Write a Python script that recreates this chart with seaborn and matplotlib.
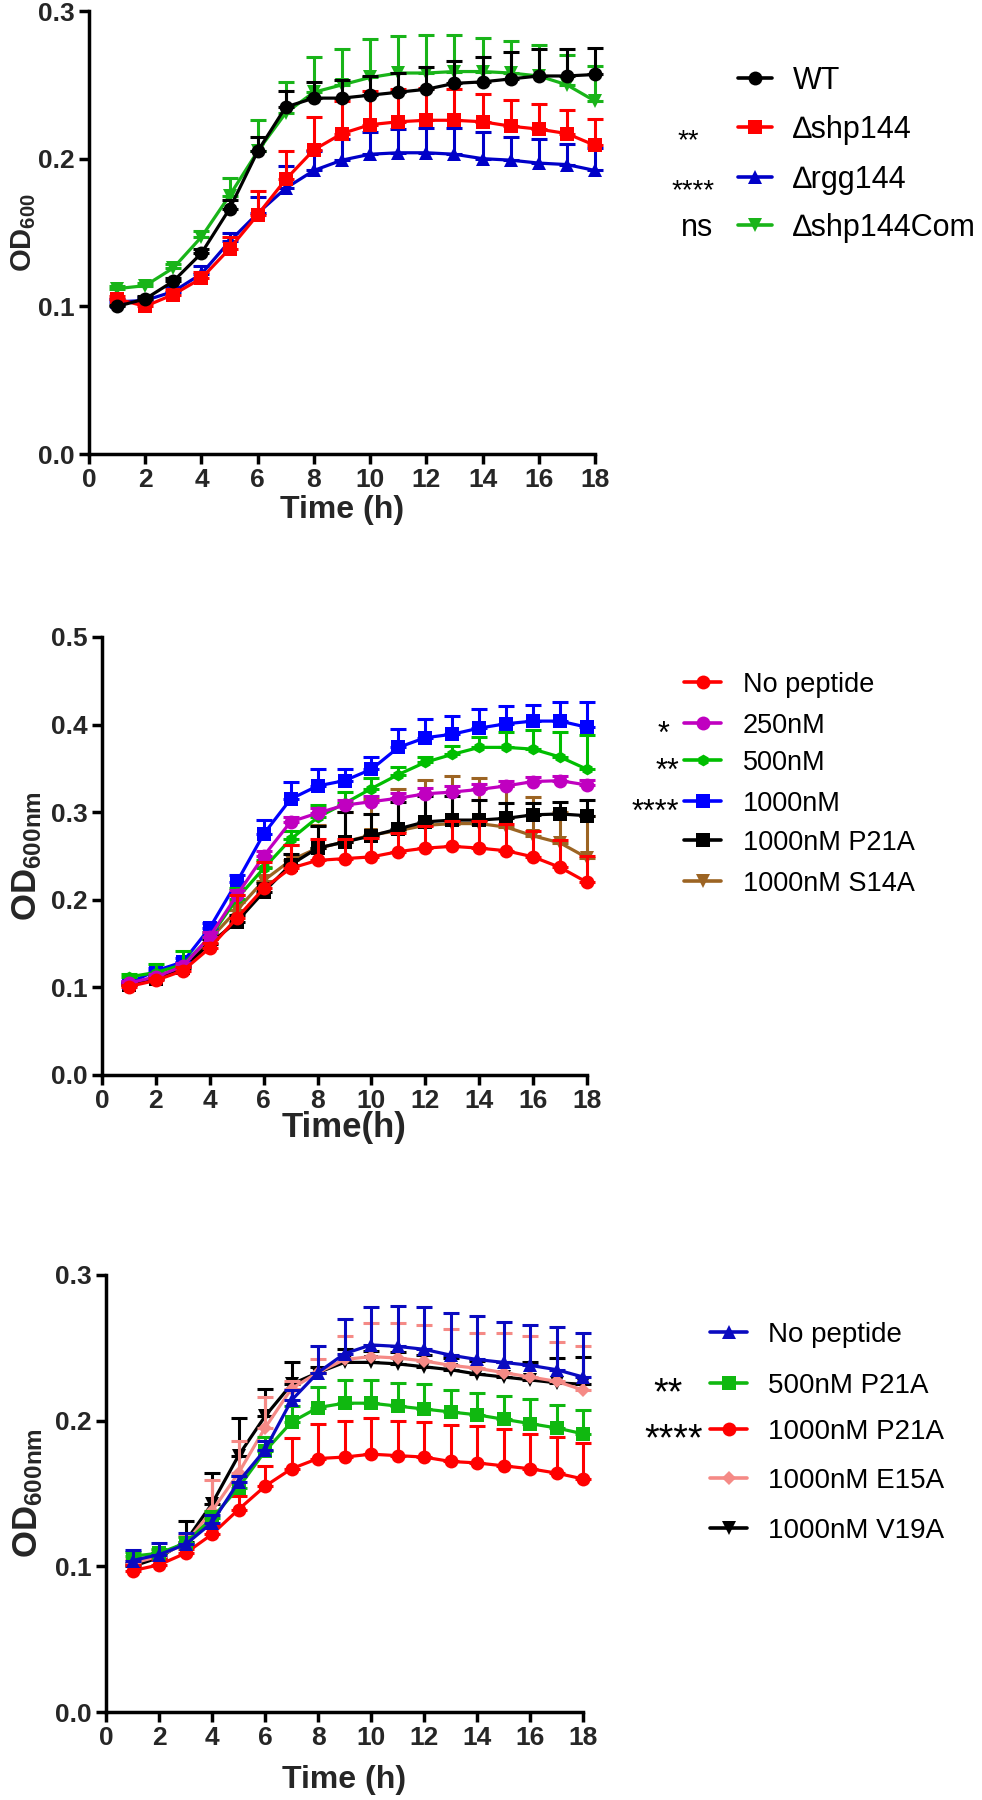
import numpy as np
import pandas as pd
import matplotlib
matplotlib.use("Agg")
import matplotlib.pyplot as plt
import seaborn as sns
from matplotlib.lines import Line2D
from matplotlib.ticker import FixedLocator, FormatStrFormatter

# ---------------- data ----------------
time_h = list(range(1, 19))

# Panel 1
p1_labels = ["WT", "∆shp144", "∆rgg144", "∆shp144Com"]
p1_stars = ["", "**", "****", "ns"]
wt_mean = [0.100, 0.105, 0.117, 0.136, 0.166, 0.205, 0.235, 0.241, 0.241, 0.243, 0.245, 0.247, 0.251, 0.252, 0.254, 0.256, 0.256, 0.257]
wt_sd = [0.001, 0.002, 0.002, 0.003, 0.006, 0.010, 0.011, 0.011, 0.012, 0.013, 0.013, 0.015, 0.015, 0.017, 0.018, 0.018, 0.018, 0.018]
shp_mean = [0.105, 0.100, 0.108, 0.119, 0.139, 0.162, 0.186, 0.206, 0.217, 0.223, 0.225, 0.226, 0.226, 0.225, 0.222, 0.220, 0.217, 0.209]
shp_sd = [0.002, 0.002, 0.003, 0.004, 0.008, 0.016, 0.019, 0.022, 0.022, 0.023, 0.022, 0.022, 0.021, 0.019, 0.018, 0.017, 0.016, 0.018]
rgg_mean = [0.103, 0.104, 0.110, 0.122, 0.144, 0.163, 0.180, 0.192, 0.199, 0.203, 0.204, 0.204, 0.203, 0.200, 0.199, 0.197, 0.196, 0.192]
rgg_sd = [0.002, 0.002, 0.003, 0.005, 0.006, 0.011, 0.015, 0.013, 0.014, 0.015, 0.016, 0.017, 0.018, 0.018, 0.016, 0.016, 0.014, 0.015]
com_mean = [0.112, 0.114, 0.126, 0.147, 0.175, 0.205, 0.231, 0.245, 0.250, 0.255, 0.258, 0.258, 0.259, 0.259, 0.258, 0.256, 0.250, 0.239]
com_sd = [0.002, 0.002, 0.003, 0.004, 0.012, 0.021, 0.021, 0.024, 0.024, 0.026, 0.025, 0.026, 0.025, 0.023, 0.022, 0.021, 0.020, 0.024]

# Panel 2
p2_labels = ["No peptide", "250nM", "500nM", "1000nM", "1000nM P21A", "1000nM S14A"]
p2_stars = ["", "*", "**", "****", "", ""]
np2_mean = [0.101, 0.108, 0.119, 0.145, 0.179, 0.213, 0.236, 0.245, 0.247, 0.249, 0.255, 0.259, 0.261, 0.259, 0.256, 0.249, 0.237, 0.220]
np2_sd = [0.002, 0.003, 0.004, 0.006, 0.026, 0.030, 0.027, 0.024, 0.022, 0.022, 0.021, 0.025, 0.029, 0.031, 0.030, 0.030, 0.031, 0.030]
n250_mean = [0.105, 0.112, 0.124, 0.158, 0.205, 0.250, 0.289, 0.299, 0.308, 0.312, 0.316, 0.321, 0.323, 0.326, 0.330, 0.335, 0.336, 0.331]
n250_sd = [0.002, 0.003, 0.004, 0.005, 0.006, 0.006, 0.006, 0.006, 0.006, 0.006, 0.006, 0.007, 0.007, 0.006, 0.006, 0.005, 0.005, 0.006]
n500_mean = [0.112, 0.117, 0.126, 0.157, 0.201, 0.236, 0.269, 0.294, 0.310, 0.327, 0.343, 0.357, 0.366, 0.374, 0.374, 0.372, 0.363, 0.349]
n500_sd = [0.003, 0.010, 0.015, 0.006, 0.012, 0.010, 0.010, 0.014, 0.013, 0.012, 0.009, 0.006, 0.010, 0.012, 0.018, 0.022, 0.029, 0.039]
n1000_mean = [0.105, 0.119, 0.129, 0.168, 0.220, 0.275, 0.315, 0.330, 0.336, 0.349, 0.374, 0.385, 0.389, 0.396, 0.401, 0.404, 0.404, 0.397]
n1000_sd = [0.002, 0.003, 0.004, 0.005, 0.008, 0.016, 0.020, 0.019, 0.013, 0.014, 0.021, 0.021, 0.021, 0.022, 0.020, 0.018, 0.022, 0.029]
p21a2_mean = [0.103, 0.110, 0.122, 0.150, 0.175, 0.209, 0.240, 0.259, 0.266, 0.273, 0.281, 0.289, 0.291, 0.291, 0.293, 0.297, 0.298, 0.296]
p21a2_sd = [0.002, 0.003, 0.004, 0.005, 0.008, 0.010, 0.012, 0.025, 0.034, 0.025, 0.031, 0.029, 0.027, 0.023, 0.017, 0.013, 0.014, 0.018]
s14a_mean = [0.104, 0.112, 0.124, 0.155, 0.188, 0.222, 0.245, 0.259, 0.266, 0.274, 0.279, 0.285, 0.287, 0.287, 0.283, 0.273, 0.265, 0.248]
s14a_sd = [0.002, 0.003, 0.004, 0.006, 0.010, 0.015, 0.018, 0.026, 0.034, 0.041, 0.047, 0.052, 0.054, 0.052, 0.047, 0.044, 0.035, 0.048]

# Panel 3
p3_labels = ["No peptide", "500nM P21A", "1000nM P21A", "1000nM E15A", "1000nM V19A"]
p3_stars = ["", "**", "****", "", ""]
np3_mean = [0.104, 0.108, 0.115, 0.130, 0.158, 0.180, 0.214, 0.233, 0.246, 0.252, 0.251, 0.249, 0.245, 0.242, 0.240, 0.238, 0.235, 0.230]
np3_sd = [0.007, 0.008, 0.008, 0.005, 0.004, 0.006, 0.007, 0.018, 0.024, 0.026, 0.028, 0.029, 0.029, 0.030, 0.028, 0.028, 0.029, 0.030]
g500_mean = [0.107, 0.109, 0.116, 0.133, 0.154, 0.179, 0.199, 0.209, 0.212, 0.212, 0.210, 0.208, 0.206, 0.204, 0.201, 0.198, 0.195, 0.191]
g500_sd = [0.003, 0.003, 0.004, 0.005, 0.008, 0.010, 0.011, 0.014, 0.016, 0.016, 0.016, 0.017, 0.015, 0.015, 0.016, 0.017, 0.016, 0.016]
r1000_mean = [0.097, 0.101, 0.109, 0.122, 0.139, 0.155, 0.167, 0.174, 0.175, 0.177, 0.176, 0.175, 0.172, 0.171, 0.169, 0.167, 0.164, 0.160]
r1000_sd = [0.004, 0.004, 0.003, 0.006, 0.009, 0.014, 0.021, 0.024, 0.025, 0.025, 0.024, 0.024, 0.025, 0.025, 0.025, 0.024, 0.025, 0.025]
e15a_mean = [0.102, 0.107, 0.116, 0.138, 0.164, 0.195, 0.222, 0.233, 0.242, 0.244, 0.243, 0.241, 0.238, 0.236, 0.233, 0.230, 0.227, 0.221]
e15a_sd = [0.003, 0.004, 0.005, 0.021, 0.022, 0.021, 0.005, 0.009, 0.016, 0.023, 0.024, 0.025, 0.025, 0.024, 0.027, 0.028, 0.027, 0.030]
v19a_mean = [0.100, 0.106, 0.117, 0.143, 0.176, 0.203, 0.225, 0.233, 0.240, 0.240, 0.239, 0.237, 0.235, 0.232, 0.230, 0.228, 0.226, 0.225]
v19a_sd = [0.002, 0.003, 0.014, 0.021, 0.026, 0.019, 0.015, 0.004, 0.009, 0.008, 0.008, 0.008, 0.008, 0.009, 0.010, 0.012, 0.017, 0.019]

x_ticks = [0, 2, 4, 6, 8, 10, 12, 14, 16, 18]

# ---------------- style ----------------
sns.set_theme(style="ticks")
plt.rcParams["font.family"] = ["Liberation Sans", "DejaVu Sans"]
plt.rcParams["mathtext.fontset"] = "custom"
plt.rcParams["mathtext.rm"] = "Liberation Sans:bold"
plt.rcParams["mathtext.it"] = "Liberation Sans:bold"
plt.rcParams["mathtext.bf"] = "Liberation Sans:bold"

W, H = 982, 1800
fig = plt.figure(figsize=(W / 100, H / 100), dpi=100)
fig.patch.set_facecolor("white")


def px_axes(l, r, t, b):
    return fig.add_axes([l / W, 1 - b / H, (r - l) / W, (b - t) / H])


def fx(x):
    return x / W


def fy(y):
    return 1 - y / H


def draw_panel(ax, series, ymax, yticks, xlabel, ylabel, tick_fs, xlab_fs, ylab_fs,
               ylab_x, xlab_pad):
    # draw in reverse order so that first series is on top
    for k, (label, mean, sd, color, marker, msz) in enumerate(reversed(series)):
        z = 3 + k * 0.1
        ax.errorbar(time_h, mean, yerr=[np.zeros(len(sd)), sd], fmt="none",
                    ecolor=color, elinewidth=2.2, capsize=6, capthick=2.2,
                    clip_on=False, zorder=z)
        df = pd.DataFrame({"time": time_h, "od": mean})
        sns.lineplot(data=df, x="time", y="od", ax=ax, color=color, marker=marker,
                     markersize=msz, markeredgewidth=0, linewidth=2.3,
                     clip_on=False, zorder=z + 0.05, legend=False)
    ax.set_xlim(0, 18)
    ax.set_ylim(0, ymax)
    ax.xaxis.set_major_locator(FixedLocator(x_ticks))
    ax.yaxis.set_major_locator(FixedLocator(yticks))
    ax.yaxis.set_major_formatter(FormatStrFormatter("%.1f"))
    sns.despine(ax=ax)
    for s in ["left", "bottom"]:
        ax.spines[s].set_linewidth(2.5)
        ax.spines[s].set_color("black")
    ax.tick_params(axis="both", direction="out", length=7, width=2.5, color="black",
                   labelsize=tick_fs, pad=3)
    for t in ax.get_xticklabels() + ax.get_yticklabels():
        t.set_fontweight("bold")
    ax.set_xlabel(xlabel, fontsize=xlab_fs, fontweight="bold", labelpad=xlab_pad)
    ax.set_ylabel(ylabel, fontsize=ylab_fs, fontweight="bold")
    ax.yaxis.set_label_coords(ylab_x, 0.5)
    ax.set_facecolor("white")
    ax.grid(False)


def draw_legend(series, stars, rows_y, hx0, hx1, tx, fs, star_fs, star_right, star_dy):
    for (label, mean, sd, color, marker, msz), star, y, sr in zip(series, stars, rows_y, star_right):
        ln = Line2D([fx(hx0), fx((hx0 + hx1) / 2), fx(hx1)], [fy(y)] * 3,
                    transform=fig.transFigure, color=color, linewidth=2.6,
                    marker=marker, markersize=msz, markeredgewidth=0,
                    markevery=[1])
        fig.add_artist(ln)
        fig.text(fx(tx), fy(y + 0.36 * fs * 100 / 72), label, fontsize=fs,
                 va="baseline", ha="left", color="black")
        if star:
            if star == "ns":
                fig.text(fx(sr), fy(y + 0.36 * fs * 100 / 72), star,
                         fontsize=fs, va="baseline", ha="right", color="black")
            else:
                fig.text(fx(sr), fy(y + 0.57 * star_fs * 100 / 72 + star_dy), star,
                         fontsize=star_fs, va="baseline", ha="right", color="black")


# ---------------- panel 1 ----------------
ax1 = px_axes(89, 595, 11, 454)
p1_series = [
    (p1_labels[0], wt_mean, wt_sd, "#000000", "o", 10),
    (p1_labels[1], shp_mean, shp_sd, "#FF0000", "s", 9.5),
    (p1_labels[2], rgg_mean, rgg_sd, "#0000C8", "^", 10),
    (p1_labels[3], com_mean, com_sd, "#19B419", "v", 10),
]
draw_panel(ax1, p1_series, 0.3, [0.0, 0.1, 0.2, 0.3], "Time (h)", r"OD$_{600}$",
           19, 23, 21, -0.10, 2)
draw_legend(p1_series, p1_stars, [78, 127, 177, 225], 738, 772, 793, 22, 20,
            [0, 699, 715, 713], 5)

# ---------------- panel 2 ----------------
ax2 = px_axes(102, 587, 637, 1075)
p2_series = [
    (p2_labels[0], np2_mean, np2_sd, "#FF0000", "o", 10),
    (p2_labels[1], n250_mean, n250_sd, "#C000C0", "o", 10),
    (p2_labels[2], n500_mean, n500_sd, "#00BE00", "h", 8.5),
    (p2_labels[3], n1000_mean, n1000_sd, "#0000FF", "s", 10),
    (p2_labels[4], p21a2_mean, p21a2_sd, "#000000", "s", 10),
    (p2_labels[5], s14a_mean, s14a_sd, "#9C6423", "v", 10),
]
draw_panel(ax2, p2_series, 0.5, [0.0, 0.1, 0.2, 0.3, 0.4, 0.5], "Time(h)", r"OD$_{600nm}$",
           19, 25, 25, -0.12, -1)
draw_legend(p2_series, p2_stars, [682, 723, 760, 801, 840, 881], 684, 721, 743, 19.5, 22,
            [0, 669, 679, 679, 0, 0], 2)

# ---------------- panel 3 ----------------
ax3 = px_axes(106, 583, 1275, 1712)
p3_series = [
    (p3_labels[0], np3_mean, np3_sd, "#0A0AC0", "^", 10),
    (p3_labels[1], g500_mean, g500_sd, "#10B810", "s", 9.5),
    (p3_labels[2], r1000_mean, r1000_sd, "#FF0000", "o", 10),
    (p3_labels[3], e15a_mean, e15a_sd, "#F58A86", "D", 7),
    (p3_labels[4], v19a_mean, v19a_sd, "#000000", "v", 10),
]
draw_panel(ax3, p3_series, 0.3, [0.0, 0.1, 0.2, 0.3], "Time (h)", r"OD$_{600nm}$",
           19, 23, 25, -0.128, 11)
draw_legend(p3_series, p3_stars, [1332, 1383, 1429, 1478, 1528], 710, 747, 768, 20, 27,
            [0, 683, 703, 0, 0], 0)

fig.savefig("out.png", dpi=100, facecolor="white")
